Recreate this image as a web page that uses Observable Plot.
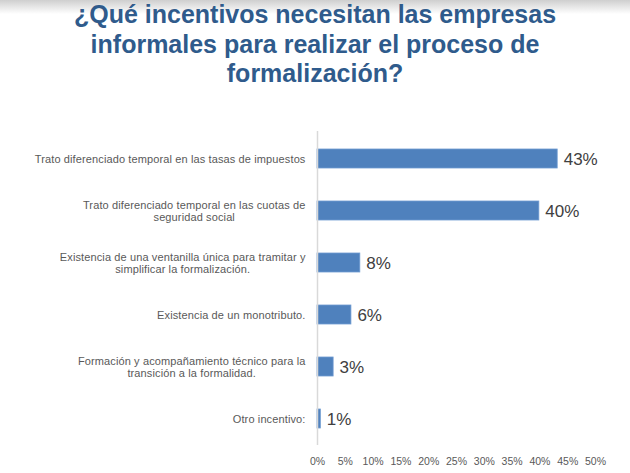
<!DOCTYPE html>
<html>
<head>
<meta charset="utf-8">
<script src="https://cdn.jsdelivr.net/npm/d3@7"></script>
<script src="https://cdn.jsdelivr.net/npm/@observablehq/plot@0.6"></script>
<style>
  html, body { margin: 0; padding: 0; background: #fff; width: 630px; height: 473px; overflow: hidden; }
  #shade { position: absolute; left: 0; top: 0; width: 630px; height: 14px;
    background: linear-gradient(to bottom, #cfcfcf, rgba(255,255,255,0)); }
  #title { position: relative; height: 100px; margin: 0; padding-top: 0px; text-align: center;
    font-family: "Liberation Sans", Arial, sans-serif; font-weight: bold;
    font-size: 25px; line-height: 29.5px; color: #2f5b8c; }
  #chart { position: relative; }
  g[aria-label="y-axis tick label"] text { letter-spacing: 0.12px; }
</style>
</head>
<body>
<div id="shade"></div>
<div id="title">¿Qué incentivos necesitan las empresas<br>informales para realizar el proceso de<br>formalización?</div>
<div id="chart"></div>
<script>
const categories = [
  "Trato diferenciado temporal en las tasas de impuestos",
  "Trato diferenciado temporal en las cuotas de\nseguridad social",
  "Existencia de una ventanilla única para tramitar y\nsimplificar la formalización.",
  "Existencia de un monotributo.",
  "Formación y acompañamiento técnico para la\ntransición a la formalidad.",
  "Otro incentivo:"
];
const values = [43.2, 39.9, 7.7, 6.1, 2.9, 0.6];
const valueLabels = ["43%", "40%", "8%", "6%", "3%", "1%"];
const xTicks = [0, 5, 10, 15, 20, 25, 30, 35, 40, 45, 50];

const data = categories.map((c, i) => ({category: c, value: values[i], label: valueLabels[i]}));

const chart = Plot.plot({
  width: 630,
  height: 373,
  marginLeft: 317,
  marginRight: 35,
  marginTop: 31,
  marginBottom: 28,
  style: {fontFamily: "'Liberation Sans', Arial, sans-serif", background: "white"},
  x: {domain: [0, 50], ticks: xTicks, tickFormat: d => d + "%"},
  y: {domain: categories, paddingInner: 0.64, paddingOuter: 0.32},
  marks: [
    Plot.axisX({ticks: xTicks, tickFormat: d => d + "%", tickSize: 0, tickPadding: 12, fontSize: 10.5, color: "#595959", label: null}),
    Plot.axisY({tickSize: 0, tickPadding: 12, fontSize: 11, color: "#595959", label: null, lineHeight: 1.14}),
    Plot.barX(data, {x: "value", y: "category", fill: "#4f81bd", stroke: "#6f9bd1", strokeWidth: 0.8}),
    Plot.ruleX([0], {stroke: "#d9d9d9", strokeWidth: 1.5}),
    Plot.text(data, {x: "value", y: "category", text: "label", textAnchor: "start", dx: 6, dy: 1, fontSize: 17, fill: "#404040"})
  ]
});
document.getElementById("chart").appendChild(chart);

// center wrapped lines of category labels relative to each other (right-aligned block)
d3.select(chart).selectAll("g[aria-label='y-axis tick label'] text").each(function() {
  const tspans = Array.from(this.querySelectorAll("tspan"));
  if (tspans.length > 1) {
    const widths = tspans.map(t => t.getComputedTextLength());
    const maxW = Math.max(...widths);
    tspans.forEach((t, i) => t.setAttribute("x", -(maxW - widths[i]) / 2));
  }
});
</script>
</body>
</html>
